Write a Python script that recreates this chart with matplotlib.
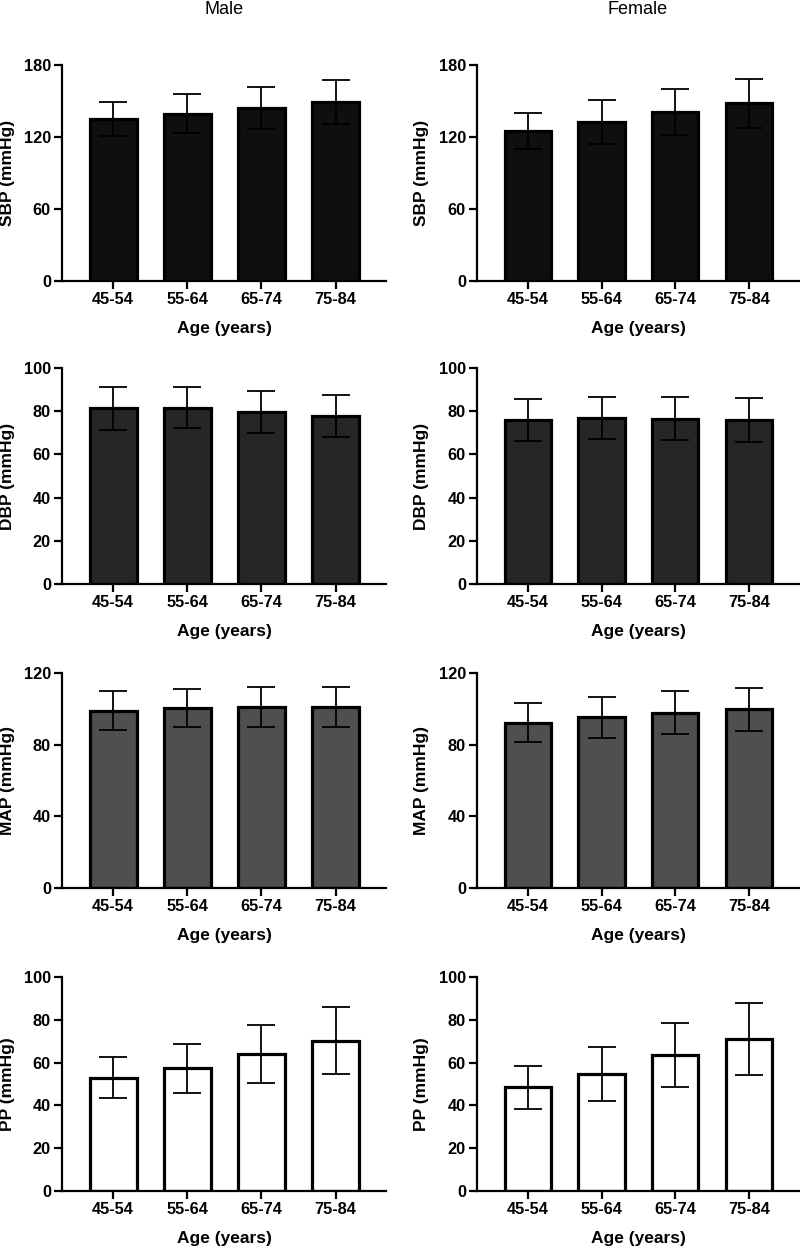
import numpy as np
import matplotlib
matplotlib.use("Agg")
from matplotlib import pyplot as plt

# Data (mean and SD per age group)
age_groups = ["45-54", "55-64", "65-74", "75-84"]

sbp_male = [135.0, 139.5, 144.5, 149.0]
sbp_male_sd = [14.5, 16.0, 17.5, 18.5]
sbp_female = [125.0, 132.5, 141.0, 148.0]
sbp_female_sd = [15.0, 18.0, 19.0, 20.5]

dbp_male = [81.3, 81.5, 79.7, 77.8]
dbp_male_sd = [9.8, 9.5, 9.8, 9.8]
dbp_female = [76.0, 77.0, 76.5, 76.0]
dbp_female_sd = [9.6, 9.8, 10.0, 10.3]

map_male = [99.0, 100.5, 101.0, 101.0]
map_male_sd = [10.8, 10.8, 11.2, 11.4]
map_female = [92.3, 95.3, 97.8, 99.8]
map_female_sd = [10.8, 11.5, 12.0, 12.0]

pp_male = [53.0, 57.3, 64.2, 70.3]
pp_male_sd = [9.7, 11.6, 13.6, 15.5]
pp_female = [48.4, 54.7, 63.6, 70.9]
pp_female_sd = [9.9, 12.6, 14.8, 16.9]

sex_titles = ["Male", "Female"]
y_labels = ["SBP (mmHg)", "DBP (mmHg)", "MAP (mmHg)", "PP (mmHg)"]
y_ticks = [[0, 60, 120, 180], [0, 20, 40, 60, 80, 100], [0, 40, 80, 120], [0, 20, 40, 60, 80, 100]]
x_label = "Age (years)"

# rows: SBP, DBP, MAP, PP ; cols: male, female
means = [[sbp_male, sbp_female], [dbp_male, dbp_female], [map_male, map_female], [pp_male, pp_female]]
sds = [[sbp_male_sd, sbp_female_sd], [dbp_male_sd, dbp_female_sd],
       [map_male_sd, map_female_sd], [pp_male_sd, pp_female_sd]]
fill_colors = ["#0f0f0f", "#262626", "#4f4f4f", "#ffffff"]

plt.rcParams["font.family"] = ["Liberation Sans", "DejaVu Sans"]

W, H = 800, 1249
fig = plt.figure(figsize=(W / 100, H / 100), dpi=100)

# axes boxes in pixels: (left spine, right end), (top, bottom)
col_px = [(62, 386), (477, 799)]
row_px = [(65, 281), (368, 584), (673, 888), (977, 1191)]
# centre of the y label, in pixels from the left edge
ylabel_px = [8, 422]

x = np.arange(len(age_groups))

for r in range(4):
    for c in range(2):
        l, rr = col_px[c]
        t, b = row_px[r]
        ax = fig.add_axes([l / W, 1 - b / H, (rr - l) / W, (b - t) / H])

        ax.bar(x, means[r][c], width=0.63, color=fill_colors[r],
               edgecolor="black", linewidth=2.3, zorder=2)
        ax.errorbar(x, means[r][c], yerr=sds[r][c], fmt="none", ecolor="black",
                    elinewidth=1.3, capsize=10, capthick=1.3, zorder=3)

        ax.set_xlim(-0.69, 3.68)
        ax.set_ylim(0, y_ticks[r][-1])
        ax.set_yticks(y_ticks[r])
        ax.set_xticks(x)
        ax.set_xticklabels(age_groups)

        for side in ["top", "right"]:
            ax.spines[side].set_visible(False)
        for side in ["left", "bottom"]:
            ax.spines[side].set_linewidth(1.6)

        ax.tick_params(axis="both", direction="out", length=6, width=1.6,
                       labelsize=11.8, pad=2)
        for lab in ax.get_xticklabels() + ax.get_yticklabels():
            lab.set_fontweight("bold")

        ax.set_xlabel(x_label, fontsize=12.5, fontweight="bold", labelpad=10)
        ax.set_ylabel(y_labels[r], fontsize=12.5, fontweight="bold", va="center")
        ax.yaxis.set_label_coords((ylabel_px[c] - l) / (rr - l), 0.5)

        if r == 0:
            fig.text((l + rr) / 2 / W, 1 - 9 / H, sex_titles[c], ha="center",
                     va="center", fontsize=13)

fig.savefig("out.png", dpi=100)
